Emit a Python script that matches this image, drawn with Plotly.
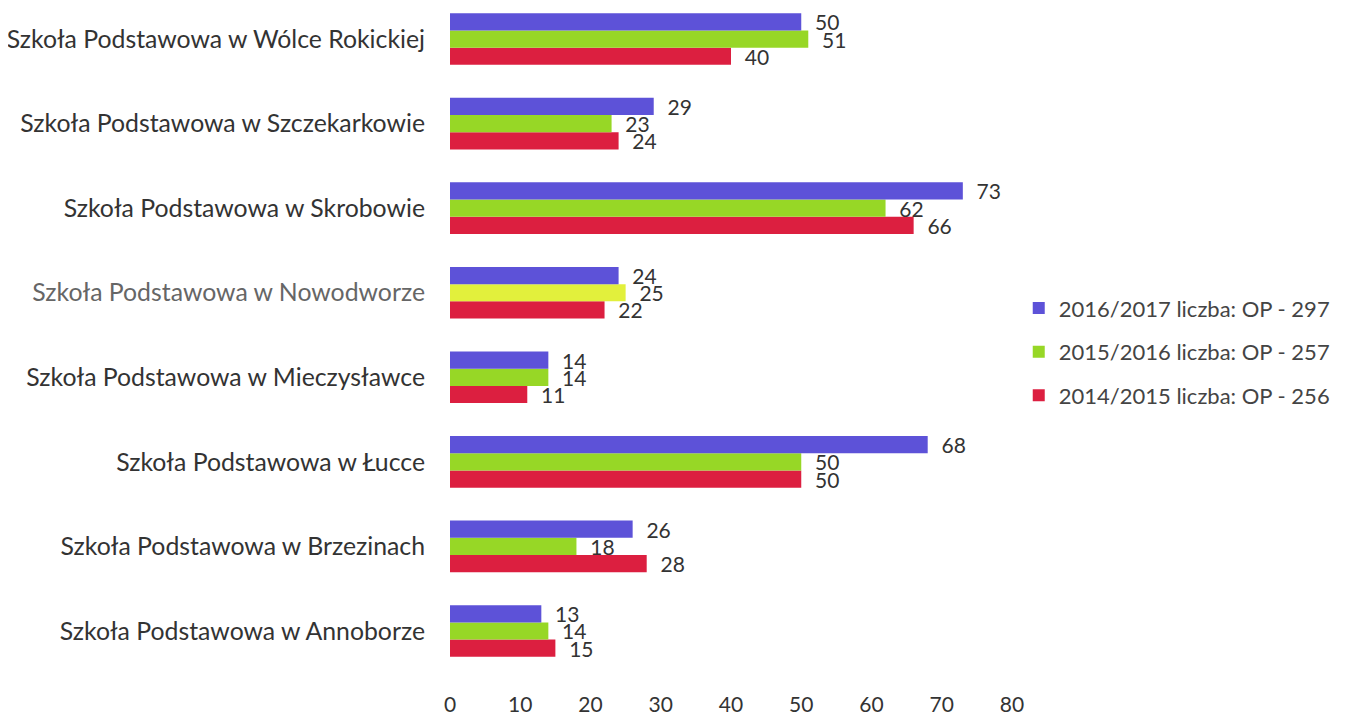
import plotly.graph_objects as go

# schools, listed bottom-up (plotly draws first category at the bottom)
schools = [
    "Szkoła Podstawowa w Annoborze",
    "Szkoła Podstawowa w Brzezinach",
    "Szkoła Podstawowa w Łucce",
    "Szkoła Podstawowa w Mieczysławce",
    "Szkoła Podstawowa w Nowodworze",
    "Szkoła Podstawowa w Skrobowie",
    "Szkoła Podstawowa w Szczekarkowie",
    "Szkoła Podstawowa w Wólce Rokickiej",
]
y_2016_2017 = [13, 26, 68, 14, 24, 73, 29, 50]
y_2015_2016 = [14, 18, 50, 14, 25, 62, 23, 51]
y_2014_2015 = [15, 28, 50, 11, 22, 66, 24, 40]

names = [
    "2016/2017 liczba: OP - 297",
    "2015/2016 liczba: OP - 257",
    "2014/2015 liczba: OP - 256",
]
x_ticks = [0, 10, 20, 30, 40, 50, 60, 70, 80]

FONT = "Lato"
purple = "#5d52d8"
green = "#97d726"
red = "#dc1f40"
# the scanned original shows the Nowodworze row washed out
green_row = [green, green, green, green, "#e2f03c", green, green, green]
tick_text = [
    s if "Nowodworze" not in s else "<span style='color:#666666'>" + s + "</span>"
    for s in schools
]

fig = go.Figure()
# added bottom-to-top within each group: red, green, purple
for vals, name, col, rank in [
    (y_2014_2015, names[2], red, 3),
    (y_2015_2016, names[1], green_row, 2),
    (y_2016_2017, names[0], purple, 1),
]:
    fig.add_trace(go.Bar(
        y=schools, x=vals, name=name, orientation="h",
        marker=dict(color=col, line=dict(width=0)),
        text=["  " + str(v) for v in vals], textposition="outside",
        constraintext="none", cliponaxis=False,
        textfont=dict(family=FONT, size=21, color="#333333"),
        legendgroup=name, legendrank=rank,
    ))

# page body has an 8px margin, so the figure is 8px smaller than the window
fig.update_layout(
    barmode="group",
    bargap=0.39,
    bargroupgap=0,
    width=1345, height=707,
    margin=dict(l=442, r=341, t=0, b=25),
    plot_bgcolor="white",
    paper_bgcolor="white",
    font=dict(family=FONT, color="#333333"),
    showlegend=True,
    legend=dict(
        x=1.012, y=0.496, xanchor="left", yanchor="middle",
        traceorder="grouped", tracegroupgap=12,
        font=dict(family=FONT, size=22, color="#444444"),
        itemwidth=30,
    ),
    xaxis=dict(
        range=[0, 80], tickvals=x_ticks, showgrid=False, zeroline=False,
        showline=False, tickfont=dict(family=FONT, size=21, color="#333333"),
    ),
    yaxis=dict(
        range=[-0.698, 7.367], showgrid=False, showline=False,
        tickvals=schools, ticktext=tick_text,
        ticks="", tickfont=dict(family=FONT, size=24.8, color="#333333"),
        ticklabelstandoff=24,
    ),
)

fig.write_html("out.html")
